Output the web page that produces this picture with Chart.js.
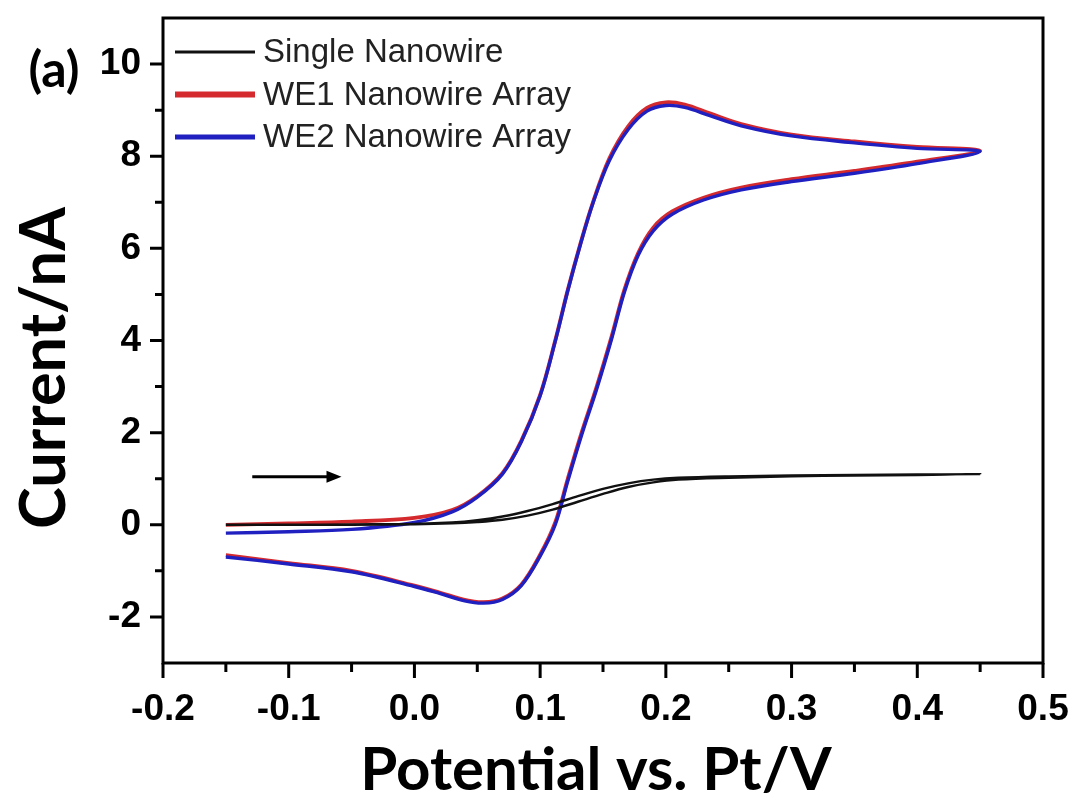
<!DOCTYPE html>
<html>
<head>
<meta charset="utf-8">
<title>Cyclic voltammetry</title>
<script src="https://cdn.jsdelivr.net/npm/chart.js@4.4.1/dist/chart.umd.min.js"></script>
<style>
    html, body { margin: 0; padding: 0; background: #fff; }
    #wrap { width: 1080px; height: 801px; }
</style>
</head>
<body>
<div id="wrap"><canvas id="cvChart"></canvas></div>
<script>
// ---------- Data: potential (V) and current (nA), forward sweep then return sweep ----------
const singlePotential = [-0.15, -0.10, -0.05, 0.00, 0.03, 0.05, 0.07, 0.09, 0.11, 0.13, 0.15, 0.17, 0.19, 0.21, 0.25, 0.30, 0.35, 0.40, 0.45,
                         0.40, 0.35, 0.30, 0.25, 0.21, 0.19, 0.17, 0.15, 0.13, 0.11, 0.09, 0.07, 0.05, 0.03, 0.00, -0.05, -0.10, -0.15];
const singleCurrent = [0.00, 0.00, 0.00, 0.01, 0.03, 0.06, 0.11, 0.20, 0.33, 0.50, 0.67, 0.82, 0.92, 0.98, 1.02, 1.05, 1.07, 1.08, 1.10,
                       1.09, 1.08, 1.07, 1.05, 1.02, 0.98, 0.90, 0.78, 0.62, 0.45, 0.30, 0.18, 0.10, 0.05, 0.02, 0.01, 0.00, 0.00];

const arrayPotential = [-0.15, -0.10, -0.05, 0.00, 0.03, 0.05, 0.07, 0.085, 0.10, 0.112, 0.122, 0.132, 0.142, 0.155, 0.17, 0.185, 0.20, 0.215, 0.235, 0.26, 0.30, 0.35, 0.40, 0.45,
                        0.40, 0.35, 0.30, 0.26, 0.23, 0.205, 0.19, 0.178, 0.167, 0.157, 0.145, 0.133, 0.122, 0.112, 0.10, 0.085, 0.07, 0.055, 0.04, 0.02, 0.00, -0.05, -0.10, -0.15];
const we1Current = [0.00, 0.03, 0.07, 0.15, 0.32, 0.62, 1.12, 1.82, 2.82, 4.00, 5.10, 6.10, 7.00, 7.95, 8.65, 9.05, 9.17, 9.12, 8.93, 8.70, 8.47, 8.32, 8.20, 8.12,
                    7.88, 7.68, 7.50, 7.32, 7.10, 6.80, 6.45, 5.90, 5.10, 4.10, 3.00, 2.00, 1.00, 0.05, -0.65, -1.30, -1.60, -1.68, -1.63, -1.47, -1.32, -1.00, -0.83, -0.66];
const we2Current = [-0.18, -0.15, -0.10, 0.05, 0.28, 0.60, 1.10, 1.80, 2.80, 3.98, 5.08, 6.08, 6.98, 7.90, 8.58, 8.98, 9.10, 9.06, 8.88, 8.66, 8.44, 8.29, 8.17, 8.10,
                    7.84, 7.63, 7.45, 7.27, 7.05, 6.74, 6.38, 5.85, 5.05, 4.05, 2.95, 1.95, 0.95, 0.00, -0.68, -1.32, -1.62, -1.70, -1.65, -1.49, -1.34, -1.02, -0.85, -0.70];

// ---------- Axes ----------
const xTicks = [-0.2, -0.1, 0.0, 0.1, 0.2, 0.3, 0.4, 0.5];
const xMinorTicks = [-0.15, -0.05, 0.05, 0.15, 0.25, 0.35, 0.45];
const yTicks = [-2, 0, 2, 4, 6, 8, 10];
const yMinorTicks = [-1, 1, 3, 5, 7, 9];
const xTitle = 'Potential vs. Pt/V';
const yTitle = 'Current/nA';

// scan direction marker, in data units
const arrowStart = { x: -0.129, y: 1.04 };
const arrowEnd = { x: -0.058, y: 1.04 };

function toPoints(xs, ys) {
    return xs.map((x, i) => ({ x: x, y: ys[i] }));
}

const tickFont = { family: '"Liberation Sans", Arial, sans-serif', size: 37, weight: 'bold' };

// ---------- Frame, tick marks, titles, legend, arrow ----------
const decorations = {
    id: 'decorations',
    afterDatasetsDraw(chart) {
        const { ctx, chartArea: a, scales: { x, y } } = chart;
        ctx.save();

        ctx.strokeStyle = '#000';
        ctx.lineWidth = 3;
        ctx.strokeRect(a.left, a.top, a.right - a.left, a.bottom - a.top);

        ctx.lineWidth = 3;
        ctx.beginPath();
        xTicks.forEach(v => {
            const px = x.getPixelForValue(v);
            ctx.moveTo(px, a.bottom); ctx.lineTo(px, a.bottom + 15);
        });
        xMinorTicks.forEach(v => {
            const px = x.getPixelForValue(v);
            ctx.moveTo(px, a.bottom); ctx.lineTo(px, a.bottom + 9);
        });
        yTicks.forEach(v => {
            const py = y.getPixelForValue(v);
            ctx.moveTo(a.left, py); ctx.lineTo(a.left - 13, py);
        });
        yMinorTicks.forEach(v => {
            const py = y.getPixelForValue(v);
            ctx.moveTo(a.left, py); ctx.lineTo(a.left - 8, py);
        });
        ctx.stroke();

        // axis titles
        ctx.fillStyle = '#000';
        ctx.textAlign = 'center';
        ctx.textBaseline = 'alphabetic';
        ctx.font = 'bold 60px Lato, "Open Sans", sans-serif';
        ctx.fillText(xTitle, 596, 790);
        ctx.save();
        ctx.translate(65, 368);
        ctx.rotate(-Math.PI / 2);
        ctx.font = 'bold 63px Lato, "Open Sans", sans-serif';
        ctx.fillText(yTitle, 0, 0);
        ctx.restore();

        // legend
        const legendWidths = [3, 6, 5];
        ctx.font = '33px "Liberation Sans", Arial, sans-serif';
        ctx.textBaseline = 'middle';
        ctx.textAlign = 'left';
        chart.data.datasets.forEach((ds, i) => {
            const ly = a.top + 34 + i * 42.5;
            ctx.strokeStyle = ds.borderColor;
            ctx.lineWidth = legendWidths[i];
            ctx.beginPath();
            ctx.moveTo(a.left + 12, ly);
            ctx.lineTo(a.left + 92, ly);
            ctx.stroke();
            ctx.fillStyle = '#222';
            ctx.fillText(ds.label, a.left + 100, ly + 1);
        });

        // scan direction arrow
        const x0 = x.getPixelForValue(arrowStart.x), y0 = y.getPixelForValue(arrowStart.y);
        const x1 = x.getPixelForValue(arrowEnd.x), y1 = y.getPixelForValue(arrowEnd.y);
        ctx.strokeStyle = '#000';
        ctx.fillStyle = '#000';
        ctx.lineWidth = 3;
        ctx.beginPath();
        ctx.moveTo(x0, y0); ctx.lineTo(x1 - 10, y1);
        ctx.stroke();
        ctx.beginPath();
        ctx.moveTo(x1, y1); ctx.lineTo(x1 - 15, y1 - 6); ctx.lineTo(x1 - 15, y1 + 6);
        ctx.closePath();
        ctx.fill();

        // panel letter
        ctx.font = 'bold 50px Lato, "Open Sans", sans-serif';
        ctx.textAlign = 'center';
        ctx.textBaseline = 'alphabetic';
        ctx.fillText('(a)', 54, 87);

        ctx.restore();
    }
};

const lineStyle = { showLine: true, pointRadius: 0, tension: 0.35, fill: false };

new Chart(document.getElementById('cvChart'), {
    type: 'scatter',
    data: {
        datasets: [
            { ...lineStyle, label: 'Single Nanowire', data: toPoints(singlePotential, singleCurrent), borderColor: '#111111', borderWidth: 2.4, order: 0 },
            { ...lineStyle, label: 'WE1 Nanowire Array', data: toPoints(arrayPotential, we1Current), borderColor: '#d42a2e', borderWidth: 3.8, order: 2 },
            { ...lineStyle, label: 'WE2 Nanowire Array', data: toPoints(arrayPotential, we2Current), borderColor: '#2020c0', borderWidth: 3.4, order: 1 }
        ]
    },
    options: {
        responsive: true,
        maintainAspectRatio: false,
        animation: false,
        layout: { padding: { left: 0, right: 37, top: 18, bottom: 0 } },
        plugins: {
            legend: { display: false },
            tooltip: { enabled: false }
        },
        scales: {
            x: {
                type: 'linear',
                min: -0.2,
                max: 0.5,
                grid: { display: false, drawTicks: false },
                border: { display: false },
                afterBuildTicks: s => { s.ticks = xTicks.map(v => ({ value: v })); },
                afterFit: s => { s.height = 138; s.paddingLeft = 0; s.paddingRight = 0; },
                ticks: {
                    font: tickFont,
                    color: '#000',
                    padding: 25,
                    maxRotation: 0,
                    callback: v => v.toFixed(1)
                }
            },
            y: {
                type: 'linear',
                min: -3,
                max: 11,
                grid: { display: false, drawTicks: false },
                border: { display: false },
                afterBuildTicks: s => { s.ticks = yTicks.map(v => ({ value: v })); },
                afterFit: s => { s.width = 163; s.paddingTop = 0; s.paddingBottom = 0; },
                ticks: {
                    font: tickFont,
                    color: '#000',
                    padding: 22,
                    callback: v => String(v)
                }
            }
        }
    },
    plugins: [decorations]
});
</script>
</body>
</html>
